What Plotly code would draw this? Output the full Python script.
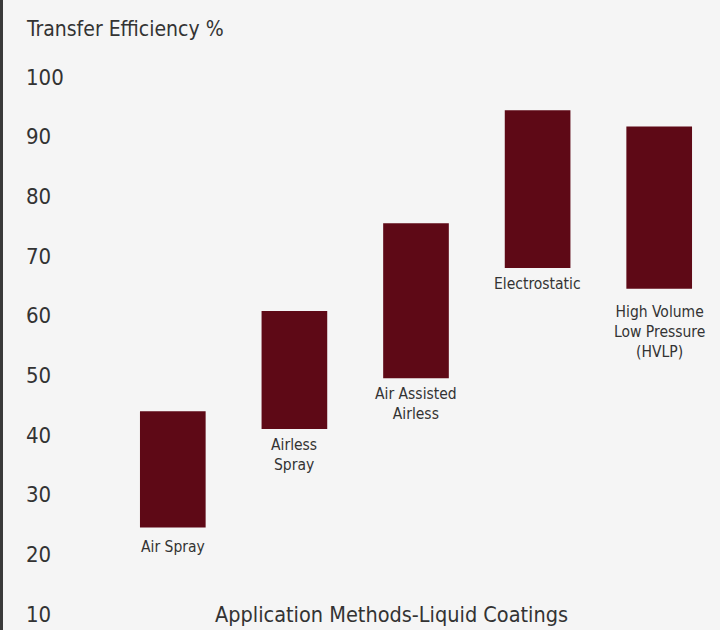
import plotly.graph_objects as go

methods = ["Air Spray", "Airless Spray", "Air Assisted Airless", "Electrostatic", "High Volume Low Pressure (HVLP)"]
method_labels = ["Air Spray", "Airless<br>Spray", "Air Assisted<br>Airless", "Electrostatic", "High Volume<br>Low Pressure<br>(HVLP)"]
low_pct = [24.5, 41.0, 49.5, 68.0, 64.5]
high_pct = [44.0, 60.8, 75.5, 94.4, 91.7]
y_ticks = [10, 20, 30, 40, 50, 60, 70, 80, 90, 100]

FONT = "DejaVu Sans Condensed, Liberation Sans Narrow, sans-serif"
BAR = "#5e0916"
TXT = "#333333"

# plot area: top 65px, bottom 626px
PLOT_TOP, PLOT_BOT = 65, 626

fig = go.Figure()
fig.add_trace(go.Bar(
    x=methods,
    y=[h - l for h, l in zip(high_pct, low_pct)],
    base=low_pct,
    width=0.54,
    marker=dict(color=BAR, line=dict(width=0)),
    hoverinfo="skip",
))

for m, lab, lo in zip(methods, method_labels, low_pct):
    shift = -5
    if m.startswith("High"):
        shift = -12
    elif m == "Air Spray":
        shift = -8
    fig.add_annotation(x=m, y=lo, xref="x", yref="y", text=lab, showarrow=False,
                       yanchor="top", yshift=shift, font=dict(family=FONT, size=15.5, color=TXT))

fig.add_annotation(x=392 / 720, y=(PLOT_BOT - 614) / (PLOT_BOT - PLOT_TOP), xref="paper", yref="paper",
                   yanchor="middle", text="Application Methods-Liquid Coatings", showarrow=False,
                   font=dict(family=FONT, size=21.5, color=TXT))

fig.update_layout(
    width=720, height=630,
    margin=dict(l=0, r=0, t=PLOT_TOP, b=630 - PLOT_BOT, autoexpand=False),
    paper_bgcolor="#f5f5f5", plot_bgcolor="#f5f5f5",
    showlegend=False,
    title=dict(text="Transfer Efficiency %", x=27 / 720, xanchor="left", xref="paper",
               y=1 - 29 / 630, yanchor="middle",
               font=dict(family=FONT, size=21, color=TXT)),
    xaxis=dict(domain=[112 / 720, 1], showticklabels=False, showgrid=False, zeroline=False,
               showline=False, ticks="", range=[-0.5, 4.5]),
    yaxis=dict(range=[8, 102], tickvals=y_ticks, ticktext=[str(v) for v in y_ticks],
               anchor="free", position=25 / 720, side="right", showgrid=False, zeroline=False,
               showline=False, ticks="", tickfont=dict(family=FONT, size=22, color=TXT)),
    shapes=[dict(type="line", xref="paper", yref="paper", x0=0, x1=0, y0=-0.05, y1=1.2,
                 line=dict(color="#3a3a3a", width=6))],
)

fig.write_html("out.html", config={"displayModeBar": False},
               post_script="document.body.style.margin='0';document.body.style.background='#f5f5f5';")
